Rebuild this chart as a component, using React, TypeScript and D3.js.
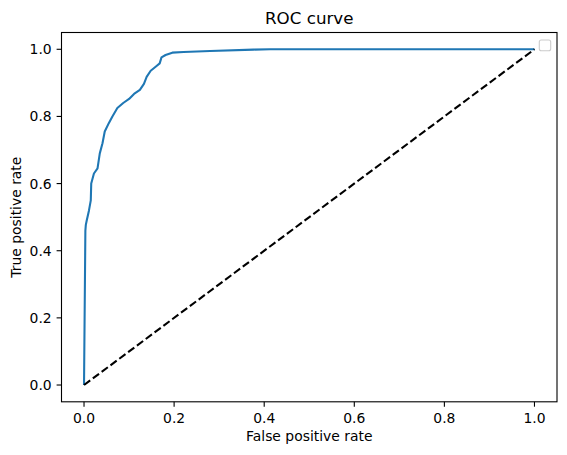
import { useMemo } from 'react';
import * as d3 from 'd3';

// ROC points (false positive rate / true positive rate)
const fpr = [0, 0.003, 0.004, 0.006, 0.011, 0.015, 0.016, 0.022, 0.030, 0.035, 0.041, 0.046, 0.055, 0.063, 0.074, 0.087, 0.100, 0.111, 0.124, 0.133, 0.139, 0.148, 0.159, 0.168, 0.172, 0.181, 0.196, 0.221, 0.280, 0.376, 0.413, 1.0];
const tpr = [0, 0.46, 0.477, 0.49, 0.52, 0.55, 0.60, 0.63, 0.645, 0.69, 0.72, 0.755, 0.78, 0.80, 0.825, 0.84, 0.852, 0.867, 0.879, 0.897, 0.918, 0.936, 0.948, 0.958, 0.976, 0.983, 0.990, 0.992, 0.995, 0.999, 1.0, 1.0];
const ticks = [0, 0.2, 0.4, 0.6, 0.8, 1.0];

const W = 567;
const H = 455;
const box = { left: 61.5, right: 557, top: 32.5, bottom: 401.8 };
const FONT = 'DejaVu Sans';

export default function App() {
  const x = useMemo(() => d3.scaleLinear().domain([-0.05, 1.05]).range([box.left, box.right]), []);
  const y = useMemo(() => d3.scaleLinear().domain([-0.05, 1.05]).range([box.bottom, box.top]), []);

  const rocPath = d3.line<number>()
    .x((_, i) => x(fpr[i]))
    .y((d) => y(d))(tpr) ?? '';
  const diagPath = d3.line<number>().x((d) => x(d)).y((d) => y(d))([0, 1]) ?? '';

  return (
    <svg width={W} height={H} style={{ position: 'absolute', left: 0, top: 0, background: '#fff' }} fontFamily={FONT}>
      <rect x={0} y={0} width={W} height={H} fill="#fff" />
      <path d={rocPath} fill="none" stroke="#1f77b4" strokeWidth={2.08} strokeLinejoin="round" />
      <path d={diagPath} fill="none" stroke="#000" strokeWidth={2.08} strokeDasharray="7.7 3.3" />

      {/* axes frame */}
      <rect x={box.left} y={box.top} width={box.right - box.left} height={box.bottom - box.top} fill="none" stroke="#000" strokeWidth={1.1} />

      {ticks.map((t) => (
        <g key={'x' + t}>
          <line x1={x(t)} x2={x(t)} y1={box.bottom} y2={box.bottom + 4.9} stroke="#000" strokeWidth={1.1} />
          <text x={x(t)} y={423} textAnchor="middle" fontSize={13.9} fill="#000">{t.toFixed(1)}</text>
        </g>
      ))}
      {ticks.map((t) => (
        <g key={'y' + t}>
          <line x1={box.left - 4.9} x2={box.left} y1={y(t)} y2={y(t)} stroke="#000" strokeWidth={1.1} />
          <text x={51.7} y={y(t) + 5} textAnchor="end" fontSize={13.9} fill="#000">{t.toFixed(1)}</text>
        </g>
      ))}

      <text x={(box.left + box.right) / 2} y={24} textAnchor="middle" fontSize={16.7} fill="#000">ROC curve</text>
      <text x={(box.left + box.right) / 2} y={441} textAnchor="middle" fontSize={13.9} fill="#000">False positive rate</text>
      <text transform={`translate(21,${(box.top + box.bottom) / 2}) rotate(-90)`} textAnchor="middle" fontSize={13.9} fill="#000">True positive rate</text>

      {/* empty legend */}
      <rect x={539.3} y={40} width={11.4} height={10.7} rx={2} fill="#fff" fillOpacity={0.8} stroke="#cccccc" strokeWidth={1.1} />
    </svg>
  );
}
